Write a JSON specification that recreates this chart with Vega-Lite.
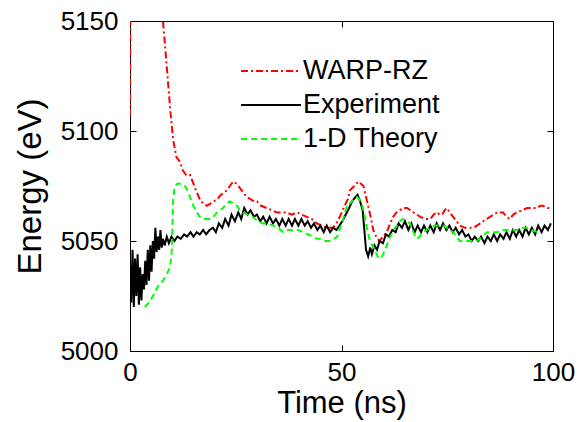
{
  "$schema": "https://vega.github.io/schema/vega-lite/v6.json",
  "width": 423,
  "height": 330,
  "autosize": "none",
  "padding": {"left": 130, "top": 21, "right": 32, "bottom": 71},
  "background": "white",
  "config": {
    "font": "Liberation Sans",
    "view": {"stroke": "black", "strokeWidth": 1}
  },
  "datasets": {
    "d": [
      {"s":"WARP-RZ","t":0,"E":5107},{"s":"WARP-RZ","t":0.15,"E":5200},{"s":"WARP-RZ","t":7.2,"E":5200},{"s":"WARP-RZ","t":7.8,"E":5150},{"s":"WARP-RZ","t":8.7,"E":5129},{"s":"WARP-RZ","t":9.5,"E":5110},{"s":"WARP-RZ","t":10.2,"E":5096},{"s":"WARP-RZ","t":11,"E":5088},{"s":"WARP-RZ","t":11.8,"E":5086},{"s":"WARP-RZ","t":12.5,"E":5082},{"s":"WARP-RZ","t":13.3,"E":5080},{"s":"WARP-RZ","t":14.2,"E":5080},{"s":"WARP-RZ","t":15,"E":5076},{"s":"WARP-RZ","t":15.8,"E":5072},{"s":"WARP-RZ","t":16.5,"E":5069},{"s":"WARP-RZ","t":17.3,"E":5067},{"s":"WARP-RZ","t":18.2,"E":5066},{"s":"WARP-RZ","t":19,"E":5067},{"s":"WARP-RZ","t":19.8,"E":5068},{"s":"WARP-RZ","t":20.6,"E":5069},{"s":"WARP-RZ","t":21.5,"E":5071},{"s":"WARP-RZ","t":22.2,"E":5072},{"s":"WARP-RZ","t":22.9,"E":5073},{"s":"WARP-RZ","t":23.6,"E":5075},{"s":"WARP-RZ","t":24.4,"E":5077},{"s":"WARP-RZ","t":25.2,"E":5076},{"s":"WARP-RZ","t":26,"E":5074},{"s":"WARP-RZ","t":26.8,"E":5072},{"s":"WARP-RZ","t":27.6,"E":5070},{"s":"WARP-RZ","t":28.5,"E":5069},{"s":"WARP-RZ","t":29.3,"E":5068},{"s":"WARP-RZ","t":30,"E":5068},{"s":"WARP-RZ","t":31,"E":5066},{"s":"WARP-RZ","t":32.3,"E":5065},{"s":"WARP-RZ","t":33.5,"E":5064},{"s":"WARP-RZ","t":34.7,"E":5063},{"s":"WARP-RZ","t":35.8,"E":5063},{"s":"WARP-RZ","t":37,"E":5063},{"s":"WARP-RZ","t":38.2,"E":5062},{"s":"WARP-RZ","t":39.5,"E":5063},{"s":"WARP-RZ","t":40.6,"E":5062},{"s":"WARP-RZ","t":41.8,"E":5061},{"s":"WARP-RZ","t":43,"E":5060},{"s":"WARP-RZ","t":44.2,"E":5058},{"s":"WARP-RZ","t":45.3,"E":5057},{"s":"WARP-RZ","t":46.5,"E":5056},{"s":"WARP-RZ","t":47.3,"E":5056},{"s":"WARP-RZ","t":48,"E":5056},{"s":"WARP-RZ","t":48.8,"E":5058},{"s":"WARP-RZ","t":49.6,"E":5061},{"s":"WARP-RZ","t":50.5,"E":5065},{"s":"WARP-RZ","t":51.5,"E":5069},{"s":"WARP-RZ","t":52,"E":5073},{"s":"WARP-RZ","t":53,"E":5075},{"s":"WARP-RZ","t":54,"E":5077},{"s":"WARP-RZ","t":54.6,"E":5076},{"s":"WARP-RZ","t":55.2,"E":5075},{"s":"WARP-RZ","t":55.8,"E":5070},{"s":"WARP-RZ","t":56.3,"E":5066},{"s":"WARP-RZ","t":57,"E":5060},{"s":"WARP-RZ","t":57.5,"E":5055},{"s":"WARP-RZ","t":58.2,"E":5052},{"s":"WARP-RZ","t":59,"E":5050},{"s":"WARP-RZ","t":59.8,"E":5052},{"s":"WARP-RZ","t":60.7,"E":5054},{"s":"WARP-RZ","t":61.5,"E":5058},{"s":"WARP-RZ","t":62.2,"E":5061},{"s":"WARP-RZ","t":63,"E":5063},{"s":"WARP-RZ","t":63.8,"E":5064},{"s":"WARP-RZ","t":64.6,"E":5065},{"s":"WARP-RZ","t":65.5,"E":5065},{"s":"WARP-RZ","t":66.3,"E":5064},{"s":"WARP-RZ","t":67,"E":5063},{"s":"WARP-RZ","t":67.8,"E":5062},{"s":"WARP-RZ","t":68.6,"E":5061},{"s":"WARP-RZ","t":69.8,"E":5060},{"s":"WARP-RZ","t":71,"E":5060},{"s":"WARP-RZ","t":71.8,"E":5062},{"s":"WARP-RZ","t":72.6,"E":5063},{"s":"WARP-RZ","t":73.2,"E":5062},{"s":"WARP-RZ","t":73.8,"E":5062},{"s":"WARP-RZ","t":74.4,"E":5064},{"s":"WARP-RZ","t":74.9,"E":5065},{"s":"WARP-RZ","t":75.6,"E":5063},{"s":"WARP-RZ","t":76.4,"E":5061},{"s":"WARP-RZ","t":77.2,"E":5059},{"s":"WARP-RZ","t":78,"E":5057},{"s":"WARP-RZ","t":79.2,"E":5056},{"s":"WARP-RZ","t":80.4,"E":5056},{"s":"WARP-RZ","t":81.2,"E":5056},{"s":"WARP-RZ","t":82,"E":5057},{"s":"WARP-RZ","t":82.8,"E":5058},{"s":"WARP-RZ","t":83.5,"E":5059},{"s":"WARP-RZ","t":84.3,"E":5060},{"s":"WARP-RZ","t":85.1,"E":5061},{"s":"WARP-RZ","t":86,"E":5062},{"s":"WARP-RZ","t":86.8,"E":5063},{"s":"WARP-RZ","t":87.5,"E":5063},{"s":"WARP-RZ","t":88.2,"E":5063},{"s":"WARP-RZ","t":89,"E":5061},{"s":"WARP-RZ","t":89.8,"E":5060},{"s":"WARP-RZ","t":90.6,"E":5062},{"s":"WARP-RZ","t":91.5,"E":5063},{"s":"WARP-RZ","t":92.7,"E":5064},{"s":"WARP-RZ","t":93.9,"E":5065},{"s":"WARP-RZ","t":95,"E":5065},{"s":"WARP-RZ","t":96.2,"E":5065},{"s":"WARP-RZ","t":97,"E":5066},{"s":"WARP-RZ","t":97.6,"E":5066},{"s":"WARP-RZ","t":98.7,"E":5065},{"s":"WARP-RZ","t":99.8,"E":5065},

      {"s":"Experiment","t":0,"E":5040},{"s":"Experiment","t":0.3,"E":5022},{"s":"Experiment","t":0.6,"E":5046},{"s":"Experiment","t":0.9,"E":5020},{"s":"Experiment","t":1.2,"E":5042},{"s":"Experiment","t":1.5,"E":5025},{"s":"Experiment","t":1.8,"E":5044},{"s":"Experiment","t":2.1,"E":5021},{"s":"Experiment","t":2.4,"E":5038},{"s":"Experiment","t":2.7,"E":5023},{"s":"Experiment","t":3.0,"E":5035},{"s":"Experiment","t":3.3,"E":5028},{"s":"Experiment","t":3.6,"E":5041},{"s":"Experiment","t":3.9,"E":5030},{"s":"Experiment","t":4.2,"E":5046},{"s":"Experiment","t":4.5,"E":5032},{"s":"Experiment","t":4.8,"E":5048},{"s":"Experiment","t":5.1,"E":5036},{"s":"Experiment","t":5.4,"E":5050},{"s":"Experiment","t":5.7,"E":5042},{"s":"Experiment","t":6.0,"E":5056},{"s":"Experiment","t":6.3,"E":5045},{"s":"Experiment","t":6.6,"E":5052},{"s":"Experiment","t":6.9,"E":5046},{"s":"Experiment","t":7.2,"E":5055},{"s":"Experiment","t":7.5,"E":5047},{"s":"Experiment","t":7.8,"E":5051},{"s":"Experiment","t":8.2,"E":5048},{"s":"Experiment","t":8.7,"E":5052},{"s":"Experiment","t":9.2,"E":5049},{"s":"Experiment","t":9.8,"E":5052},{"s":"Experiment","t":10.5,"E":5050},{"s":"Experiment","t":11.2,"E":5052},{"s":"Experiment","t":12,"E":5051},{"s":"Experiment","t":12.8,"E":5053},{"s":"Experiment","t":13.5,"E":5052},{"s":"Experiment","t":14.3,"E":5054},{"s":"Experiment","t":15,"E":5052},{"s":"Experiment","t":15.8,"E":5054},{"s":"Experiment","t":16.5,"E":5053},{"s":"Experiment","t":17.3,"E":5055},{"s":"Experiment","t":18,"E":5053},{"s":"Experiment","t":18.8,"E":5055},{"s":"Experiment","t":19.6,"E":5056},{"s":"Experiment","t":20.3,"E":5054},{"s":"Experiment","t":21,"E":5058},{"s":"Experiment","t":21.8,"E":5056},{"s":"Experiment","t":22.5,"E":5060},{"s":"Experiment","t":23.3,"E":5057},{"s":"Experiment","t":24,"E":5062},{"s":"Experiment","t":24.8,"E":5059},{"s":"Experiment","t":25.6,"E":5063},{"s":"Experiment","t":26.3,"E":5060},{"s":"Experiment","t":27,"E":5065},{"s":"Experiment","t":27.8,"E":5062},{"s":"Experiment","t":28.5,"E":5064},{"s":"Experiment","t":29.3,"E":5061},{"s":"Experiment","t":30,"E":5062},{"s":"Experiment","t":30.8,"E":5059},{"s":"Experiment","t":31.5,"E":5061},{"s":"Experiment","t":32.3,"E":5058},{"s":"Experiment","t":33,"E":5061},{"s":"Experiment","t":33.8,"E":5058},{"s":"Experiment","t":34.5,"E":5060},{"s":"Experiment","t":35.3,"E":5057},{"s":"Experiment","t":36,"E":5060},{"s":"Experiment","t":36.8,"E":5057},{"s":"Experiment","t":37.5,"E":5060},{"s":"Experiment","t":38.3,"E":5057},{"s":"Experiment","t":39,"E":5060},{"s":"Experiment","t":39.8,"E":5057},{"s":"Experiment","t":40.5,"E":5060},{"s":"Experiment","t":41.3,"E":5057},{"s":"Experiment","t":42,"E":5059},{"s":"Experiment","t":42.8,"E":5056},{"s":"Experiment","t":43.5,"E":5058},{"s":"Experiment","t":44.3,"E":5055},{"s":"Experiment","t":45,"E":5057},{"s":"Experiment","t":45.8,"E":5054},{"s":"Experiment","t":46.5,"E":5057},{"s":"Experiment","t":47.3,"E":5054},{"s":"Experiment","t":48,"E":5056},{"s":"Experiment","t":48.8,"E":5055},{"s":"Experiment","t":49.5,"E":5057},{"s":"Experiment","t":50.2,"E":5059},{"s":"Experiment","t":51,"E":5062},{"s":"Experiment","t":51.8,"E":5065},{"s":"Experiment","t":52.5,"E":5068},{"s":"Experiment","t":53.3,"E":5070},{"s":"Experiment","t":53.8,"E":5071},{"s":"Experiment","t":54.4,"E":5068},{"s":"Experiment","t":55,"E":5064},{"s":"Experiment","t":55.4,"E":5055},{"s":"Experiment","t":55.8,"E":5046},{"s":"Experiment","t":56.3,"E":5043},{"s":"Experiment","t":56.8,"E":5047},{"s":"Experiment","t":57.2,"E":5044},{"s":"Experiment","t":57.8,"E":5048},{"s":"Experiment","t":58.4,"E":5046},{"s":"Experiment","t":59,"E":5050},{"s":"Experiment","t":59.8,"E":5049},{"s":"Experiment","t":60.5,"E":5053},{"s":"Experiment","t":61.2,"E":5052},{"s":"Experiment","t":62,"E":5055},{"s":"Experiment","t":62.8,"E":5054},{"s":"Experiment","t":63.5,"E":5058},{"s":"Experiment","t":64.3,"E":5056},{"s":"Experiment","t":65,"E":5059},{"s":"Experiment","t":65.8,"E":5055},{"s":"Experiment","t":66.5,"E":5058},{"s":"Experiment","t":67.3,"E":5054},{"s":"Experiment","t":68,"E":5057},{"s":"Experiment","t":68.8,"E":5054},{"s":"Experiment","t":69.5,"E":5057},{"s":"Experiment","t":70.3,"E":5054},{"s":"Experiment","t":71,"E":5057},{"s":"Experiment","t":71.8,"E":5054},{"s":"Experiment","t":72.5,"E":5058},{"s":"Experiment","t":73.3,"E":5055},{"s":"Experiment","t":74,"E":5058},{"s":"Experiment","t":74.8,"E":5055},{"s":"Experiment","t":75.5,"E":5057},{"s":"Experiment","t":76.3,"E":5054},{"s":"Experiment","t":77,"E":5056},{"s":"Experiment","t":77.8,"E":5053},{"s":"Experiment","t":78.5,"E":5055},{"s":"Experiment","t":79.3,"E":5052},{"s":"Experiment","t":80,"E":5053},{"s":"Experiment","t":80.8,"E":5050},{"s":"Experiment","t":81.5,"E":5052},{"s":"Experiment","t":82.3,"E":5050},{"s":"Experiment","t":83,"E":5052},{"s":"Experiment","t":83.8,"E":5049},{"s":"Experiment","t":84.5,"E":5052},{"s":"Experiment","t":85.3,"E":5050},{"s":"Experiment","t":86,"E":5053},{"s":"Experiment","t":86.8,"E":5050},{"s":"Experiment","t":87.5,"E":5053},{"s":"Experiment","t":88.3,"E":5051},{"s":"Experiment","t":89,"E":5054},{"s":"Experiment","t":89.8,"E":5051},{"s":"Experiment","t":90.5,"E":5055},{"s":"Experiment","t":91.3,"E":5052},{"s":"Experiment","t":92,"E":5055},{"s":"Experiment","t":92.8,"E":5052},{"s":"Experiment","t":93.5,"E":5056},{"s":"Experiment","t":94.3,"E":5053},{"s":"Experiment","t":95,"E":5056},{"s":"Experiment","t":95.8,"E":5053},{"s":"Experiment","t":96.5,"E":5057},{"s":"Experiment","t":97.3,"E":5054},{"s":"Experiment","t":98,"E":5057},{"s":"Experiment","t":98.8,"E":5055},{"s":"Experiment","t":99.5,"E":5058},

      {"s":"1-D Theory","t":3.5,"E":5020},{"s":"1-D Theory","t":4.5,"E":5022},{"s":"1-D Theory","t":5.4,"E":5025},{"s":"1-D Theory","t":6.5,"E":5029},{"s":"1-D Theory","t":7.8,"E":5032},{"s":"1-D Theory","t":8.7,"E":5035},{"s":"1-D Theory","t":9.5,"E":5038},{"s":"1-D Theory","t":9.9,"E":5046},{"s":"1-D Theory","t":10.05,"E":5058},{"s":"1-D Theory","t":10.2,"E":5069},{"s":"1-D Theory","t":10.6,"E":5075},{"s":"1-D Theory","t":11.2,"E":5076},{"s":"1-D Theory","t":11.8,"E":5076},{"s":"1-D Theory","t":12.4,"E":5076},{"s":"1-D Theory","t":13,"E":5075},{"s":"1-D Theory","t":13.6,"E":5073},{"s":"1-D Theory","t":14.2,"E":5070},{"s":"1-D Theory","t":15,"E":5066},{"s":"1-D Theory","t":15.8,"E":5063},{"s":"1-D Theory","t":16.5,"E":5061},{"s":"1-D Theory","t":17.3,"E":5060},{"s":"1-D Theory","t":18.1,"E":5060},{"s":"1-D Theory","t":18.9,"E":5060},{"s":"1-D Theory","t":19.7,"E":5061},{"s":"1-D Theory","t":20.6,"E":5063},{"s":"1-D Theory","t":21.3,"E":5064},{"s":"1-D Theory","t":22,"E":5065},{"s":"1-D Theory","t":22.8,"E":5067},{"s":"1-D Theory","t":23.6,"E":5068},{"s":"1-D Theory","t":24.5,"E":5067},{"s":"1-D Theory","t":25.3,"E":5066},{"s":"1-D Theory","t":26,"E":5064},{"s":"1-D Theory","t":26.7,"E":5063},{"s":"1-D Theory","t":27.8,"E":5062},{"s":"1-D Theory","t":29,"E":5061},{"s":"1-D Theory","t":30.2,"E":5059},{"s":"1-D Theory","t":31.4,"E":5058},{"s":"1-D Theory","t":32.6,"E":5058},{"s":"1-D Theory","t":33.8,"E":5057},{"s":"1-D Theory","t":35,"E":5056},{"s":"1-D Theory","t":36.2,"E":5054},{"s":"1-D Theory","t":37.4,"E":5055},{"s":"1-D Theory","t":38.5,"E":5055},{"s":"1-D Theory","t":39.7,"E":5055},{"s":"1-D Theory","t":40.9,"E":5054},{"s":"1-D Theory","t":42.1,"E":5053},{"s":"1-D Theory","t":43.3,"E":5052},{"s":"1-D Theory","t":44.1,"E":5051},{"s":"1-D Theory","t":44.9,"E":5051},{"s":"1-D Theory","t":46.1,"E":5050},{"s":"1-D Theory","t":47.3,"E":5050},{"s":"1-D Theory","t":48.2,"E":5051},{"s":"1-D Theory","t":49,"E":5052},{"s":"1-D Theory","t":49.7,"E":5056},{"s":"1-D Theory","t":50.4,"E":5060},{"s":"1-D Theory","t":51,"E":5064},{"s":"1-D Theory","t":51.5,"E":5067},{"s":"1-D Theory","t":52,"E":5067},{"s":"1-D Theory","t":52.8,"E":5069},{"s":"1-D Theory","t":53.6,"E":5070},{"s":"1-D Theory","t":54.2,"E":5069},{"s":"1-D Theory","t":54.8,"E":5067},{"s":"1-D Theory","t":55.4,"E":5062},{"s":"1-D Theory","t":56,"E":5056},{"s":"1-D Theory","t":56.7,"E":5050},{"s":"1-D Theory","t":57.3,"E":5048},{"s":"1-D Theory","t":57.9,"E":5046},{"s":"1-D Theory","t":58.5,"E":5043},{"s":"1-D Theory","t":59,"E":5042},{"s":"1-D Theory","t":59.6,"E":5043},{"s":"1-D Theory","t":60.3,"E":5046},{"s":"1-D Theory","t":60.9,"E":5049},{"s":"1-D Theory","t":61.5,"E":5052},{"s":"1-D Theory","t":62.3,"E":5055},{"s":"1-D Theory","t":63.1,"E":5057},{"s":"1-D Theory","t":63.8,"E":5059},{"s":"1-D Theory","t":64.5,"E":5060},{"s":"1-D Theory","t":65.3,"E":5059},{"s":"1-D Theory","t":66.2,"E":5058},{"s":"1-D Theory","t":67,"E":5054},{"s":"1-D Theory","t":67.8,"E":5051},{"s":"1-D Theory","t":68.5,"E":5052},{"s":"1-D Theory","t":69.3,"E":5054},{"s":"1-D Theory","t":70.1,"E":5055},{"s":"1-D Theory","t":70.9,"E":5056},{"s":"1-D Theory","t":72.1,"E":5057},{"s":"1-D Theory","t":73.3,"E":5057},{"s":"1-D Theory","t":74.1,"E":5057},{"s":"1-D Theory","t":74.9,"E":5056},{"s":"1-D Theory","t":75.6,"E":5055},{"s":"1-D Theory","t":76.4,"E":5054},{"s":"1-D Theory","t":77.2,"E":5052},{"s":"1-D Theory","t":78,"E":5050},{"s":"1-D Theory","t":78.8,"E":5050},{"s":"1-D Theory","t":79.7,"E":5050},{"s":"1-D Theory","t":80.8,"E":5050},{"s":"1-D Theory","t":82,"E":5050},{"s":"1-D Theory","t":83.2,"E":5052},{"s":"1-D Theory","t":84.4,"E":5054},{"s":"1-D Theory","t":85.6,"E":5054},{"s":"1-D Theory","t":86.8,"E":5054},{"s":"1-D Theory","t":87.9,"E":5055},{"s":"1-D Theory","t":89.1,"E":5055},{"s":"1-D Theory","t":90.3,"E":5055},{"s":"1-D Theory","t":91.5,"E":5055},{"s":"1-D Theory","t":92.7,"E":5056},{"s":"1-D Theory","t":93.9,"E":5056},{"s":"1-D Theory","t":95,"E":5055},{"s":"1-D Theory","t":96.2,"E":5054}
    ]
  },
  "data": {"name": "d"},
  "layer": [
    {
      "mark": {"type": "line", "clip": true, "strokeWidth": 2},
      "encoding": {
        "x": {
          "field": "t", "type": "quantitative",
          "scale": {"domain": [0, 100], "nice": false, "zero": false},
          "axis": {
            "title": "Time (ns)", "values": [0, 50, 100], "format": "d", "grid": false, "labelFlush": false,
            "domainColor": "black", "tickColor": "black", "tickSize": -6,
            "labelFontSize": 26, "labelColor": "black", "labelPadding": 14,
            "titleFontSize": 31, "titleFontWeight": "normal", "titleColor": "black", "titlePadding": 3
          }
        },
        "y": {
          "field": "E", "type": "quantitative",
          "scale": {"domain": [5000, 5150], "nice": false, "zero": false},
          "axis": {
            "title": "Energy (eV)", "values": [5000, 5050, 5100, 5150], "format": "d", "grid": false, "labelFlush": false,
            "domainColor": "black", "tickColor": "black", "tickSize": -6,
            "labelFontSize": 26, "labelColor": "black", "labelPadding": 18,
            "titleFontSize": 33, "titleFontWeight": "normal", "titleColor": "black", "titlePadding": 13
          }
        },
        "color": {
          "field": "s", "type": "nominal",
          "scale": {"domain": ["WARP-RZ", "Experiment", "1-D Theory"], "range": ["#ff0000", "#000000", "#00ff00"]},
          "legend": {
            "title": null, "orient": "none", "legendX": 125, "legendY": 34,
            "symbolType": "M-2,0L2,0", "symbolSize": 900, "symbolStrokeWidth": 2,
            "labelFontSize": 27, "labelColor": "black", "labelOffset": 16,
            "rowPadding": 5, "padding": 0
          }
        },
        "strokeDash": {
          "field": "s", "type": "nominal",
          "scale": {"domain": ["WARP-RZ", "Experiment", "1-D Theory"], "range": [[7, 3, 2, 3], [1, 0], [6, 4]]},
          "legend": {
            "title": null, "orient": "none", "legendX": 125, "legendY": 34,
            "symbolType": "M-2,0L2,0", "symbolSize": 900, "symbolStrokeWidth": 2,
            "labelFontSize": 27, "labelColor": "black", "labelOffset": 16,
            "rowPadding": 5, "padding": 0
          }
        }
      }
    },
    {
      "mark": {"type": "point", "opacity": 0},
      "encoding": {
        "x": {"field": "t", "type": "quantitative", "axis": {"orient": "top", "values": [0, 50, 100], "labels": false, "title": null, "domain": false, "grid": false, "tickColor": "black", "tickSize": -6}},
        "y": {"field": "E", "type": "quantitative", "axis": {"orient": "right", "values": [5000, 5050, 5100, 5150], "labels": false, "title": null, "domain": false, "grid": false, "tickColor": "black", "tickSize": -6}}
      }
    }
  ],
  "resolve": {"axis": {"x": "independent", "y": "independent"}}
}
